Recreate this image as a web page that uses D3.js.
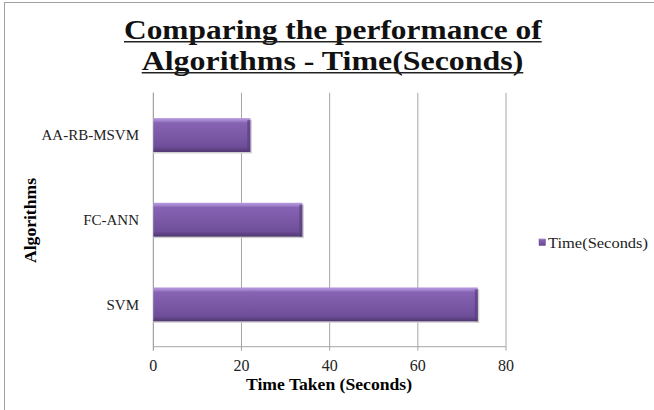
<!DOCTYPE html>
<html><head><meta charset="utf-8">
<script src="https://cdn.jsdelivr.net/npm/d3@7"></script>
<style>body{margin:0;background:#fff}svg{display:block}</style>
</head><body>
<svg id="c" width="654" height="410"></svg>
<script>
const categories = ["AA-RB-MSVM", "FC-ANN", "SVM"];
const timeSeconds = [22, 33.8, 73.6];
const xTicks = [0, 20, 40, 60, 80];
const seriesName = "Time(Seconds)";
const titleLines = ["Comparing the performance of", "Algorithms - Time(Seconds)"];

const svg = d3.select("#c");
const serif = "'Liberation Serif', 'DejaVu Serif', serif";
const m = {l:153.3, r:506, t:92.7, b:346.7};

// border
svg.append("line").attr("x1",4.5).attr("x2",4.5).attr("y1",2).attr("y2",410).attr("stroke","#a0a0a0");
svg.append("line").attr("x1",4.5).attr("x2",654).attr("y1",2.5).attr("y2",2.5).attr("stroke","#a0a0a0");

const defs = svg.append("defs");
const g = defs.append("linearGradient").attr("id","bar").attr("x1",0).attr("y1",0).attr("x2",0).attr("y2",1);
[[0,"#b89be0"],[0.08,"#a182cc"],[0.14,"#8663b3"],[0.5,"#7b59a7"],[0.85,"#6e4e98"],[1,"#4f3670"]]
  .forEach(([o,c])=>g.append("stop").attr("offset",o).attr("stop-color",c));

const x = d3.scaleLinear().domain([0,80]).range([m.l,m.r]);
const y = d3.scaleBand().domain(categories).range([m.t,m.b]).paddingInner(0.6).paddingOuter(0.3);

// gridlines
svg.append("g").selectAll("line").data(xTicks).join("line")
  .attr("x1",d=>x(d)).attr("x2",d=>x(d)).attr("y1",m.t).attr("y2",m.b+4)
  .attr("stroke",d=>d===0?"#8c8c8c":"#a6a6a6").attr("stroke-width",1);
svg.append("line").attr("x1",m.l).attr("x2",m.r).attr("y1",m.b).attr("y2",m.b).attr("stroke","#a6a6a6");

// shadows
svg.append("g").selectAll("rect").data(categories).join("rect")
  .attr("x",m.l).attr("y",d=>y(d)+1.5).attr("width",(d,i)=>x(timeSeconds[i])-m.l+1.5).attr("height",y.bandwidth())
  .attr("fill","#cfcfcf");
// bars
svg.append("g").selectAll("rect").data(categories).join("rect")
  .attr("x",m.l).attr("y",d=>y(d)).attr("width",(d,i)=>x(timeSeconds[i])-m.l).attr("height",y.bandwidth())
  .attr("fill","url(#bar)");
// right bevel
svg.append("g").selectAll("rect").data(categories).join("rect")
  .attr("x",(d,i)=>x(timeSeconds[i])-3).attr("y",d=>y(d)+2).attr("width",3).attr("height",y.bandwidth()-2)
  .attr("fill","#5a3e7e").attr("opacity",0.7);

// y labels
svg.append("g").selectAll("text").data(categories).join("text")
  .attr("x",139).attr("y",d=>y(d)+y.bandwidth()/2).attr("dy","0.35em").attr("text-anchor","end")
  .attr("font-family",serif).attr("font-size",15).attr("fill","#222").text(d=>d);
// x tick labels
svg.append("g").selectAll("text").data(xTicks).join("text")
  .attr("x",d=>x(d)).attr("y",371).attr("text-anchor","middle")
  .attr("font-family",serif).attr("font-size",16).attr("fill","#222").text(d=>d);
// axis titles
svg.append("text").attr("x",329).attr("y",390).attr("text-anchor","middle")
  .attr("font-family",serif).attr("font-weight","bold").attr("font-size",16)
  .attr("textLength",166).attr("lengthAdjust","spacingAndGlyphs").text("Time Taken (Seconds)");
svg.append("text").attr("transform","translate(36,220.5) rotate(-90)").attr("text-anchor","middle")
  .attr("font-family",serif).attr("font-weight","bold").attr("font-size",16)
  .attr("textLength",85).attr("lengthAdjust","spacingAndGlyphs").text("Algorithms");

// title
const titleX0 = [124, 141.7], titleX1 = [541.7, 523.3], titleBase = [38.5, 70], titleUl = [41.8, 72.8];
titleLines.forEach((t,i)=>{
  svg.append("text").attr("x",titleX0[i]).attr("y",titleBase[i])
    .attr("font-family",serif).attr("font-weight","bold").attr("font-size",26.5)
    .attr("textLength",titleX1[i]-titleX0[i]).attr("lengthAdjust","spacingAndGlyphs")
    .attr("fill","#111").text(t);
  svg.append("line").attr("x1",titleX0[i]).attr("x2",titleX1[i]).attr("y1",titleUl[i]).attr("y2",titleUl[i])
    .attr("stroke","#222").attr("stroke-width",1.6);
});

// legend
svg.append("rect").attr("x",539).attr("y",239).attr("width",6.5).attr("height",6.5).attr("fill","url(#bar)").attr("stroke","#6e4e98").attr("stroke-width",0.5);
svg.append("text").attr("x",548).attr("y",247.5).attr("font-family",serif).attr("font-size",15).attr("fill","#222")
  .attr("textLength",100).attr("lengthAdjust","spacingAndGlyphs").text(seriesName);
</script>
</body></html>
